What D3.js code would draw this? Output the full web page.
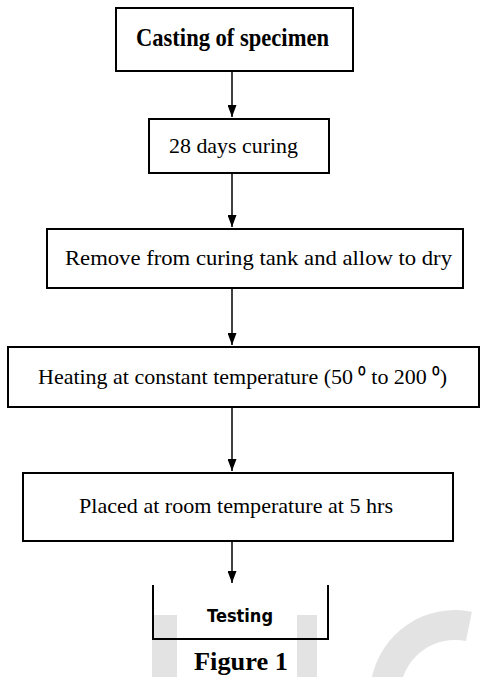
<!DOCTYPE html>
<html><head><meta charset="utf-8">
<script src="https://cdn.jsdelivr.net/npm/d3@7"></script>
<style>body{margin:0;background:#fff}</style>
</head><body>
<div id="chart"></div>
<script>
// Flowchart steps, top to bottom
const steps = [
  "Casting of specimen",
  "28 days curing",
  "Remove from curing tank and allow to dry",
  "Heating at constant temperature (50 \u2070 to 200 \u2070)",
  "Placed at room temperature at 5 hrs",
  "Testing"
];
const caption = "Figure 1";

const W = 482, H = 677;
const svg = d3.select('#chart').append('svg').attr('width', W).attr('height', H);

// watermark in the background
const wm = svg.append('g').attr('fill', '#e3e3e3');
wm.append('rect').attr('x', 152).attr('y', 615).attr('width', 25).attr('height', 62);
wm.append('rect').attr('x', 297).attr('y', 615).attr('width', 20).attr('height', 62);
wm.append('path')
  .attr('d', d3.arc()({innerRadius: 55, outerRadius: 85, startAngle: -Math.PI * 0.95, endAngle: 0.2}))
  .attr('transform', 'translate(455,695)');

// box geometry (left, right, top, bottom) and label span (text left, right, baseline)
const boxes = [
  {x0: 116, x1: 353, y0: 8, y1: 71, t0: 136, t1: 329, ty: 46},
  {x0: 149, x1: 329, y0: 119, y1: 173, t0: 169, t1: 298, ty: 153},
  {x0: 47, x1: 463, y0: 229, y1: 288, t0: 65, t1: 452, ty: 265},
  {x0: 8, x1: 479, y0: 347, y1: 407, t0: 38, t1: 447, ty: 384},
  {x0: 23, x1: 453, y0: 473, y1: 541, t0: 79, t1: 393, ty: 513},
  {x0: 153, x1: 328, y0: 585, y1: 639, t0: 207, t1: 273, ty: 622}
];
const cx = 232;

svg.append('defs').append('marker')
  .attr('id', 'head').attr('viewBox', '0 0 12 9')
  .attr('refX', 12).attr('refY', 4.5)
  .attr('markerWidth', 12).attr('markerHeight', 9)
  .attr('markerUnits', 'userSpaceOnUse')
  .attr('orient', 'auto')
  .append('path').attr('d', 'M0,0L12,4.5L0,9Z').attr('fill', '#000');

const g = svg.append('g');

// boxes (last one is an open-top tray)
boxes.forEach((b, i) => {
  if (i < boxes.length - 1) {
    g.append('rect').attr('x', b.x0).attr('y', b.y0)
      .attr('width', b.x1 - b.x0).attr('height', b.y1 - b.y0)
      .attr('fill', 'none').attr('stroke', '#000').attr('stroke-width', 2);
  } else {
    g.append('path')
      .attr('d', `M${b.x0},${b.y0}V${b.y1}H${b.x1}V${b.y0}`)
      .attr('fill', 'none').attr('stroke', '#000').attr('stroke-width', 2);
  }
});

// arrows between boxes
for (let i = 0; i < boxes.length - 1; i++) {
  g.append('line').attr('x1', cx).attr('x2', cx)
    .attr('y1', boxes[i].y1).attr('y2', boxes[i + 1].y0 - 2)
    .attr('stroke', '#000').attr('stroke-width', 1.5)
    .attr('marker-end', 'url(#head)');
}

// labels, stretched to the widths seen in the picture
g.selectAll('text.step')
  .data(steps)
  .enter()
  .append('text')
  .attr('class', 'step')
  .attr('x', (d, i) => boxes[i].t0)
  .attr('y', (d, i) => boxes[i].ty)
  .attr('textLength', (d, i) => boxes[i].t1 - boxes[i].t0)
  .attr('lengthAdjust', 'spacingAndGlyphs')
  .attr('font-family', (d, i) => i == 5 ? "'DejaVu Sans', sans-serif" : "'Liberation Serif', serif")
  .attr('font-weight', (d, i) => (i == 0 || i == 5) ? 'bold' : 'normal')
  .attr('font-size', (d, i) => i == 0 ? 25 : (i == 5 ? 18 : 21))
  .text(d => d);

svg.append('text').attr('x', 194).attr('y', 670)
  .attr('textLength', 94).attr('lengthAdjust', 'spacingAndGlyphs')
  .attr('font-family', "'Liberation Serif', serif")
  .attr('font-weight', 'bold').attr('font-size', 25)
  .text(caption);
</script>
</body></html>
